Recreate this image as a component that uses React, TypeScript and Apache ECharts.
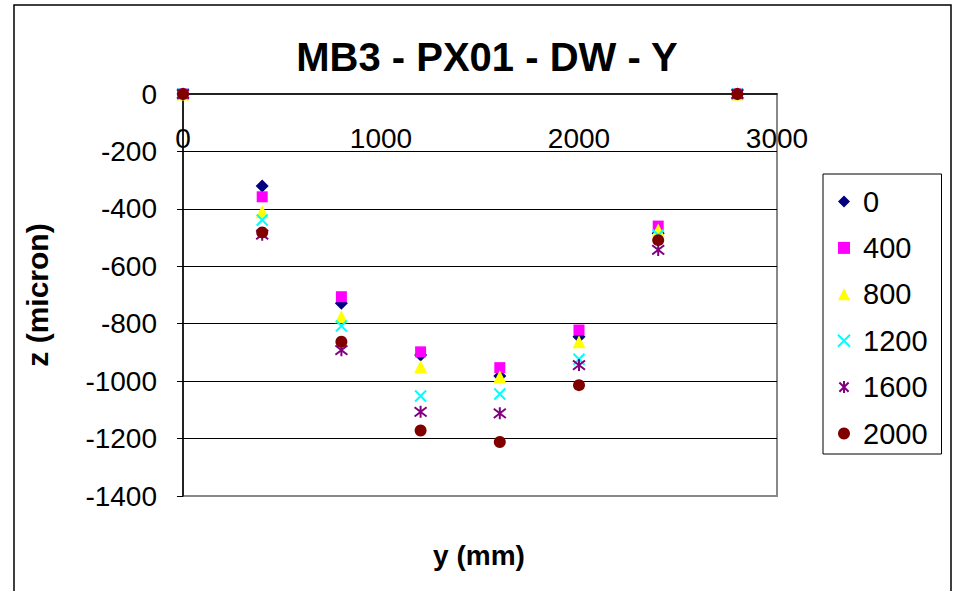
import React, { useEffect, useRef } from "react";
import * as echarts from "echarts";

const xPositions = [0, 400, 800, 1200, 1600, 2000, 2400, 2800];
const seriesNames = ["0", "400", "800", "1200", "1600", "2000"];
const z0 = [0, -320, -729, -909, -982, -845, -485, 0];
const z400 = [0, -358, -706, -898, -953, -822, -460, 0];
const z800 = [0, -410, -776, -950, -985, -863, -474, 0];
const z1200 = [0, -439, -808, -1052, -1045, -924, -492, 0];
const z1600 = [0, -490, -892, -1107, -1112, -944, -543, 0];
const z2000 = [0, -482, -863, -1172, -1212, -1014, -509, 0];
const yTicks = [0, -200, -400, -600, -800, -1000, -1200, -1400];
const xTicks = [0, 1000, 2000, 3000];

const FONT = "Liberation Sans, Arial, sans-serif";

const seriesValues = [z0, z400, z800, z1200, z1600, z2000];
const seriesStyles = [
  { symbol: "diamond", size: 13, itemStyle: { color: "#000080", opacity: 1 } },
  { symbol: "rect", size: 11, itemStyle: { color: "#FF00FF", opacity: 1 } },
  { symbol: "triangle", size: 13, itemStyle: { color: "#FFFF00", opacity: 1 } },
  {
    symbol: "path://M0 0L10 10M10 0L0 10",
    size: 11,
    itemStyle: { color: "rgba(0,0,0,0)", borderColor: "#00FFFF", borderWidth: 2, opacity: 1 },
  },
  {
    symbol: "path://M0 0L10 10M10 0L0 10M5 -1.5L5 11.5",
    size: 12,
    itemStyle: { color: "rgba(0,0,0,0)", borderColor: "#800080", borderWidth: 2, opacity: 1 },
  },
  { symbol: "circle", size: 12, itemStyle: { color: "#800000", opacity: 1 } },
];

export default function App() {
  const ref = useRef<HTMLDivElement>(null);
  useEffect(() => {
    if (!ref.current) return;
    const chart = echarts.init(ref.current, null, { renderer: "svg" });
    chart.setOption({
      animation: false,
      backgroundColor: "#ffffff",
      title: {
        text: "MB3 - PX01 - DW - Y",
        left: 482,
        textAlign: "center",
        top: 32,
        textStyle: { fontFamily: FONT, fontSize: 40, fontWeight: "bold", color: "#000" },
      },
      grid: {
        left: 183,
        top: 94,
        width: 594,
        height: 402,
        show: true,
        borderColor: "#888888",
        borderWidth: 2,
        backgroundColor: "#ffffff",
      },
      legend: {
        orient: "vertical",
        left: 823,
        top: 174,
        padding: [13, 14, 6, 14],
        itemWidth: 12,
        itemHeight: 12,
        itemGap: 17.4,
        borderColor: "#000",
        borderWidth: 1,
        backgroundColor: "#fff",
        data: seriesNames,
        textStyle: {
          fontFamily: FONT,
          fontSize: 29,
          color: "#000",
          lineHeight: 28,
          padding: [0, 0, 0, 8],
        },
      },
      xAxis: {
        type: "value",
        min: 0,
        max: 3000,
        interval: 1000,
        position: "top",
        axisLine: { show: true, onZero: false, lineStyle: { color: "#000", width: 1.5 } },
        axisTick: { show: false },
        splitLine: { show: false },
        axisLabel: {
          inside: true,
          margin: 30,
          fontFamily: FONT,
          fontSize: 28,
          color: "#000",
          formatter: (v: number) => (xTicks.includes(v) ? String(v) : ""),
        },
      },
      yAxis: {
        type: "value",
        min: -1400,
        max: 0,
        interval: 200,
        name: "z (micron)",
        nameLocation: "middle",
        nameGap: 131,
        nameTextStyle: { fontFamily: FONT, fontSize: 30, fontWeight: "bold", color: "#000" },
        axisLine: { show: true, onZero: false, lineStyle: { color: "#000", width: 1.5 } },
        axisTick: { show: true, length: 6, lineStyle: { color: "#000" } },
        splitLine: {
          show: true,
          showMinLine: false,
          showMaxLine: false,
          lineStyle: { color: "#000", width: 1.2 },
        },
        axisLabel: {
          margin: 26,
          fontFamily: FONT,
          fontSize: 28,
          color: "#000",
          formatter: (v: number) => (yTicks.includes(v) ? String(v) : ""),
        },
      },
      graphic: [
        {
          type: "rect",
          silent: true,
          z: 100,
          shape: { x: 14, y: 5, width: 937, height: 600 },
          style: { fill: "none", stroke: "#000", lineWidth: 1.5 },
        },
        {
          type: "text",
          x: 479,
          y: 555,
          style: {
            text: "y (mm)",
            fontFamily: FONT,
            fontSize: 28,
            fontWeight: "bold",
            fill: "#000",
            textAlign: "center",
            textVerticalAlign: "middle",
          },
        },
      ],
      series: seriesNames.map((name, i) => ({
        name,
        type: "scatter",
        symbol: seriesStyles[i].symbol,
        symbolSize: seriesStyles[i].size,
        itemStyle: seriesStyles[i].itemStyle,
        data: xPositions.map((x, j) => [x, seriesValues[i][j]]),
      })),
    });
    return () => chart.dispose();
  }, []);
  return (
    <div
      ref={ref}
      style={{ position: "fixed", left: 0, top: 0, width: 957, height: 591 }}
    />
  );
}
